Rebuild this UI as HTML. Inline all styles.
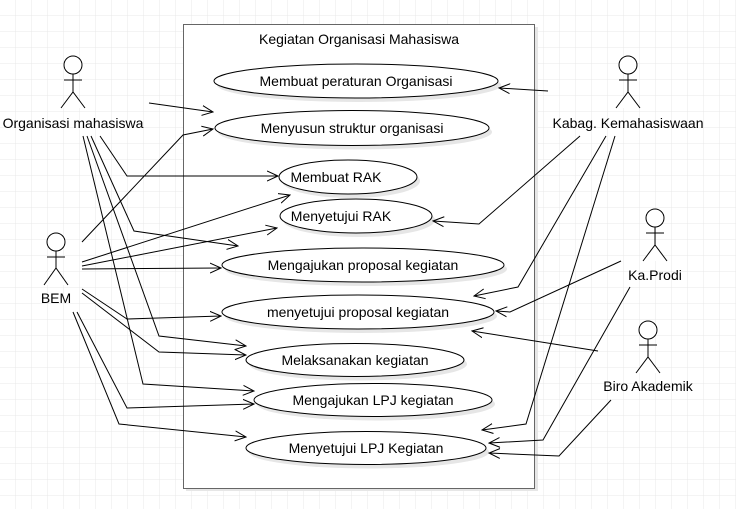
<!DOCTYPE html>
<html><head><meta charset="utf-8"><style>
html,body{margin:0;padding:0;background:#fff}
svg{display:block}
text{font-family:"Liberation Sans",sans-serif;font-size:14px;fill:#000}
</style></head><body>
<svg width="736" height="509" viewBox="0 0 736 509" xmlns="http://www.w3.org/2000/svg">
<defs>
<pattern id="g" width="16" height="16" patternUnits="userSpaceOnUse">
<path d="M16 0V16M0 16H16" stroke="#e8e8e8" stroke-width="1" fill="none"/>
</pattern>
<marker id="a" markerWidth="12" markerHeight="12" refX="11" refY="6" orient="auto" markerUnits="userSpaceOnUse">
<path d="M0 1L11 6L0 11" fill="none" stroke="#000" stroke-width="1"/>
</marker>
</defs>
<rect width="736" height="509" fill="url(#g)"/>
<rect x="186" y="27" width="352" height="464" fill="#e6e6e6"/>
<rect x="183.5" y="24.5" width="351" height="464" fill="#fff" stroke="#666" stroke-width="1"/>
<text x="359" y="44" text-anchor="middle">Kegiatan Organisasi Mahasiswa</text>
<g fill="#e6e6e6">
<ellipse cx="359" cy="85" rx="142" ry="17"/>
<ellipse cx="355" cy="132" rx="137" ry="17.5"/>
<ellipse cx="351" cy="181" rx="69" ry="17"/>
<ellipse cx="359" cy="220" rx="76" ry="17"/>
<ellipse cx="366" cy="269" rx="141" ry="17"/>
<ellipse cx="361" cy="316" rx="136" ry="17"/>
<ellipse cx="358" cy="364" rx="109" ry="16.5"/>
<ellipse cx="376" cy="404" rx="119" ry="16.5"/>
<ellipse cx="369" cy="452" rx="120" ry="16.5"/>
</g>
<g fill="#fff" stroke="#000" stroke-width="1">
<ellipse cx="356" cy="81" rx="142" ry="17"/>
<ellipse cx="352" cy="128" rx="137" ry="17.5"/>
<ellipse cx="348" cy="177" rx="69" ry="17"/>
<ellipse cx="356" cy="216" rx="76" ry="17"/>
<ellipse cx="363" cy="265" rx="141" ry="17"/>
<ellipse cx="358" cy="312" rx="136" ry="17"/>
<ellipse cx="355" cy="360" rx="109" ry="16.5"/>
<ellipse cx="373" cy="400" rx="119" ry="16.5"/>
<ellipse cx="366" cy="448" rx="120" ry="16.5"/>
</g>
<g text-anchor="middle">
<text x="356" y="86">Membuat peraturan Organisasi</text>
<text x="352" y="133">Menyusun struktur organisasi</text>
<text x="336" y="182">Membuat RAK</text>
<text x="341" y="221">Menyetujui RAK</text>
<text x="363" y="270">Mengajukan proposal kegiatan</text>
<text x="358" y="317">menyetujui proposal kegiatan</text>
<text x="355" y="365">Melaksanakan kegiatan</text>
<text x="373" y="405">Mengajukan LPJ kegiatan</text>
<text x="366" y="453">Menyetujui LPJ Kegiatan</text>
</g>
<g fill="#fff" stroke="#000" stroke-width="1">
<circle cx="73" cy="65" r="9"/><path d="M73 74V92M64 80H82M61 108L73 92L85 108"/>
<circle cx="56" cy="242" r="9"/><path d="M56 251V268M47 257H65M44 285L56 268L68 285"/>
<circle cx="628" cy="65" r="9"/><path d="M628 74V92M619 80H637M616 108L628 92L640 108"/>
<circle cx="655" cy="218" r="9"/><path d="M655 227V245M646 233H664M643 261L655 245L667 261"/>
<circle cx="648" cy="330" r="9"/><path d="M648 339V357M639 345H657M636 373L648 357L660 373"/>
</g>
<g>
<text x="73" y="128" text-anchor="middle">Organisasi mahasiswa</text>
<text x="56" y="303" text-anchor="middle">BEM</text>
<text x="628" y="128" text-anchor="middle">Kabag. Kemahasiswaan</text>
<text x="655" y="280" text-anchor="middle">Ka.Prodi</text>
<text x="648" y="391" text-anchor="middle">Biro Akademik</text>
</g>
<g fill="none" stroke="#000" stroke-width="1" marker-end="url(#a)">
<path d="M149 103L213 112"/>
<path d="M100 136L127 176L278 176"/>
<path d="M91 136L134 231L238 246"/>
<path d="M87 136L159 336L246 346"/>
<path d="M83 136L143 384L254 391"/>
<path d="M82 242L183 135L213 129"/>
<path d="M82 262L290 195"/>
<path d="M82 266L277 228"/>
<path d="M82 269L221 268"/>
<path d="M82 289L127 319L221 316"/>
<path d="M82 293L159 352L246 355"/>
<path d="M77 312L127 408L254 404"/>
<path d="M73 312L119 424L246 437"/>
<path d="M548 91L499 88"/>
<path d="M580 136L479 224L433 221"/>
<path d="M606 136L518 287L474 296"/>
<path d="M615 136L526 424L482 430"/>
<path d="M621 261L510 312L496 311"/>
<path d="M630 287L543 440L489 443"/>
<path d="M598 351L472 331"/>
<path d="M611 400L559 456L489 453"/>
</g>
</svg>
</body></html>
